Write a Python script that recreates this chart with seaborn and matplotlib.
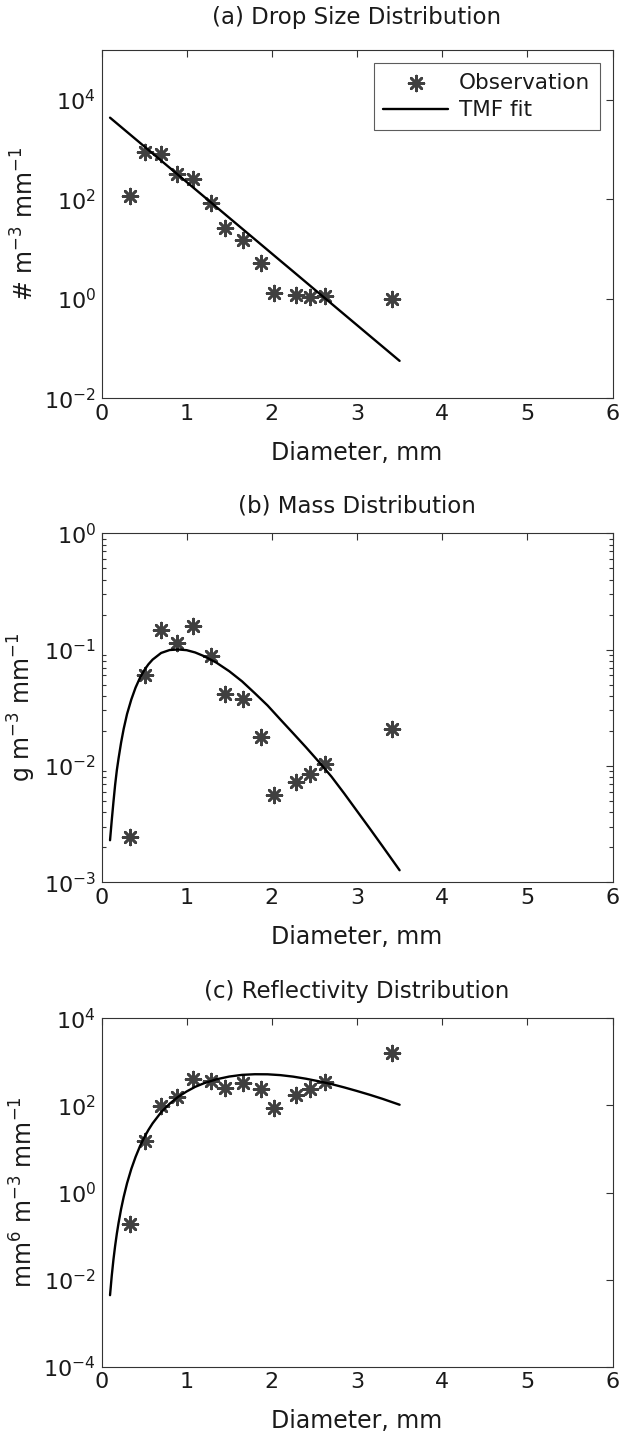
import numpy as np
import pandas as pd
import matplotlib
matplotlib.use("Agg")
import matplotlib.pyplot as plt
import seaborn as sns
from matplotlib.ticker import FixedLocator, LogLocator, NullFormatter, LogFormatterSciNotation

# ---------------- data ----------------
diam_obs = [0.34, 0.51, 0.70, 0.89, 1.08, 1.29, 1.45, 1.66, 1.87, 2.02, 2.28, 2.45, 2.62, 3.41]
n_obs = [114, 900, 820, 320, 255, 84, 26, 15.5, 5.2, 1.3, 1.17, 1.11, 1.13, 1.0]
m_obs = [0.00243, 0.060, 0.147, 0.114, 0.160, 0.089, 0.0414, 0.0375, 0.0178,
         0.0056, 0.0073, 0.0085, 0.0105, 0.0208]
z_obs = [0.193, 15.6, 96, 156, 410, 365, 251, 334, 234, 87, 170, 243, 345, 1640]

diam_fit = [0.10, 0.12, 0.14, 0.16, 0.18, 0.20, 0.23, 0.26, 0.30, 0.35, 0.40, 0.45,
            0.50, 0.55, 0.60, 0.70, 0.80, 0.90, 1.00, 1.10, 1.20, 1.35, 1.50, 1.65,
            1.80, 1.95, 2.10, 2.25, 2.40, 2.55, 2.70, 2.85, 3.00, 3.15, 3.30, 3.50]
n_fit = [4367, 4087, 3825, 3580, 3351, 3136, 2840, 2571, 2252, 1909, 1618, 1371,
         1162, 985, 834, 599, 430.5, 309.2, 222.1, 159.5, 114.6, 69.7, 42.4, 25.8,
         15.72, 9.57, 5.82, 3.55, 2.158, 1.311, 0.799, 0.486, 0.296, 0.180, 0.1097, 0.0566]
m_fit = [0.0023, 0.0034, 0.0049, 0.0069, 0.0092, 0.0116, 0.0159, 0.0208, 0.0280, 0.0373,
         0.0472, 0.0569, 0.0662, 0.0747, 0.0821, 0.0936, 0.0992, 0.1003, 0.0989, 0.0945,
         0.0881, 0.0772, 0.0652, 0.0534, 0.0422, 0.0331, 0.0251, 0.0191, 0.0145, 0.0109,
         0.0081, 0.0058, 0.0041, 0.0029, 0.00204, 0.00127]
z_fit = [0.0044, 0.0122, 0.0288, 0.060, 0.114, 0.200, 0.420, 0.79, 1.64, 3.5,
         6.6, 11.4, 18.2, 27.3, 38.9, 70, 110, 158, 210, 268,
         322, 400, 462, 505, 522, 520, 498, 460, 412, 360,
         310, 260, 215, 176, 142, 104]

titles = ["(a) Drop Size Distribution", "(b) Mass Distribution", "(c) Reflectivity Distribution"]
ylabels = ["# m$^{-3}$ mm$^{-1}$", "g m$^{-3}$ mm$^{-1}$", "mm$^{6}$ m$^{-3}$ mm$^{-1}$"]
xlabel = "Diameter, mm"
xticks = [0, 1, 2, 3, 4, 5, 6]
yticks_list = [[1e-2, 1e0, 1e2, 1e4], [1e-3, 1e-2, 1e-1, 1e0], [1e-4, 1e-2, 1e0, 1e2, 1e4]]
ylims = [(1e-2, 1e5), (1e-3, 1e0), (1e-4, 1e4)]

# ---------------- style ----------------
sns.set_theme(style="white")
plt.rcParams["font.family"] = ["DejaVu Sans"]
plt.rcParams["mathtext.default"] = "regular"
plt.rcParams["axes.unicode_minus"] = False
plt.rcParams["text.color"] = "#1a1a1a"
plt.rcParams["axes.labelcolor"] = "#1a1a1a"
plt.rcParams["xtick.color"] = "#333333"
plt.rcParams["ytick.color"] = "#333333"
plt.rcParams["xtick.labelcolor"] = "#1a1a1a"
plt.rcParams["ytick.labelcolor"] = "#1a1a1a"

fig = plt.figure(figsize=(6.19, 14.37), dpi=100)
rects = [[0.164, 0.7228, 0.8255, 0.2424],
         [0.164, 0.3860, 0.8255, 0.2429],
         [0.164, 0.0489, 0.8255, 0.2424]]
obs_sets = [n_obs, m_obs, z_obs]
fit_sets = [n_fit, m_fit, z_fit]
title_pads = [19, 15, 15]
star = (8, 2, 0)
fs = 16

for i in range(3):
    ax = fig.add_axes(rects[i])
    df_o = pd.DataFrame({"D": diam_obs, "v": obs_sets[i]})
    df_f = pd.DataFrame({"D": diam_fit, "v": fit_sets[i]})
    sns.scatterplot(data=df_o, x="D", y="v", ax=ax, marker=star, s=115,
                    color="#404040", linewidth=1.9, label="Observation", zorder=3)
    sns.lineplot(data=df_f, x="D", y="v", ax=ax, color="black", linewidth=1.7,
                 label="TMF fit", sort=False, estimator=None, zorder=4)
    ax.set_yscale("log")
    ax.set_xlim(0, 6)
    ax.set_ylim(*ylims[i])
    ax.xaxis.set_major_locator(FixedLocator(xticks))
    ax.yaxis.set_major_locator(FixedLocator(yticks_list[i]))
    ax.yaxis.set_major_formatter(LogFormatterSciNotation())
    if i == 1:
        ax.yaxis.set_minor_locator(LogLocator(base=10, subs=np.arange(2, 10), numticks=20))
    else:
        ax.yaxis.set_minor_locator(FixedLocator([]))
    ax.yaxis.set_minor_formatter(NullFormatter())
    ax.tick_params(axis="both", which="major", direction="in", length=5, width=0.8,
                   top=True, right=True, labelsize=fs, pad=4)
    ax.tick_params(axis="y", which="minor", direction="in", length=3, width=0.8,
                   left=True, right=True)
    for sp in ax.spines.values():
        sp.set_color("#333333")
        sp.set_linewidth(0.8)
    ax.set_title(titles[i], fontsize=16.5, pad=title_pads[i])
    ax.set_xlabel(xlabel, fontsize=17, labelpad=12)
    ax.set_ylabel(ylabels[i], fontsize=17, labelpad=4)
    if i == 0:
        leg = ax.legend(loc="upper right", fontsize=15.5, frameon=True, fancybox=False,
                        handlelength=3.0, borderpad=0.45, labelspacing=0.35,
                        handletextpad=0.5, borderaxespad=0.6)
        leg.get_frame().set_edgecolor("#333333")
        leg.get_frame().set_linewidth(0.8)
    else:
        lg = ax.get_legend()
        if lg is not None:
            lg.remove()

fig.savefig("out.png", dpi=100, facecolor="white")
